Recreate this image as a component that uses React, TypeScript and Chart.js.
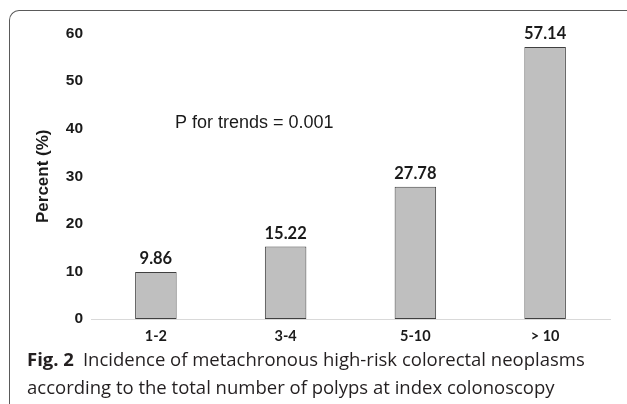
import React, { useEffect, useRef } from "react";
import { Chart, registerables } from "chart.js";

Chart.register(...registerables);

// ---- data ----
const categories: string[] = ["1-2", "3-4", "5-10", "> 10"];
const percents: number[] = [9.86, 15.22, 27.78, 57.14];
const yTicks: number[] = [0, 10, 20, 30, 40, 50, 60];
const yTitle = "Percent (%)";
const annotationText = "P for trends = 0.001";
const captionLabel = "Fig. 2";
const captionLines: string[] = [
  "Incidence of metachronous high-risk colorectal neoplasms",
  "according to the total number of polyps at index colonoscopy",
];

const valueLabels = {
  id: "valueLabels",
  afterDatasetsDraw(chart: any) {
    const ctx = chart.ctx;
    const meta = chart.getDatasetMeta(0);
    ctx.save();
    ctx.fillStyle = "#1a1a1a";
    ctx.font = "bold 16.5px Lato";
    ctx.textAlign = "center";
    ctx.textBaseline = "alphabetic";
    meta.data.forEach((bar: any, i: number) => {
      const v = chart.data.datasets[0].data[i] as number;
      ctx.fillText(v.toFixed(2), bar.x, bar.y - 8);
    });
    ctx.font = "18px 'Liberation Sans', Arial";
    ctx.textAlign = "left";
    ctx.fillText(annotationText, chart.chartArea.left + 84, chart.chartArea.top + 94.5);
    ctx.restore();
  },
};

export default function App() {
  const canvasRef = useRef<HTMLCanvasElement | null>(null);

  useEffect(() => {
    if (!canvasRef.current) return;
    const chart = new Chart(canvasRef.current, {
      type: "bar",
      data: {
        labels: categories,
        datasets: [
          {
            data: percents,
            backgroundColor: "#bfbfbf",
            borderColor: "#404040",
            borderWidth: 1,
            borderSkipped: false,
            categoryPercentage: 1,
            barPercentage: 0.32,
          },
        ],
      },
      options: {
        animation: false,
        responsive: false,
        maintainAspectRatio: false,
        events: [],
        layout: { padding: { top: 33.5, right: 17, left: 0, bottom: 0 } },
        plugins: {
          legend: { display: false },
          tooltip: { enabled: false },
          title: { display: false },
        },
        scales: {
          x: {
            grid: { display: false, drawTicks: false },
            border: { display: true, color: "#d9d9d9", width: 1 },
            ticks: {
              color: "#1a1a1a",
              padding: 8.5,
              font: { family: "Lato", weight: "bold", size: 14.5 },
            },
            afterFit(scale: any) {
              scale.height = 31;
            },
          },
          y: {
            min: 0,
            max: 60,
            grid: { display: false, drawTicks: false },
            border: { display: false },
            afterBuildTicks(scale: any) {
              scale.ticks = yTicks.map((v) => ({ value: v }));
            },
            ticks: {
              color: "#1a1a1a",
              padding: 8,
              font: { family: "'Liberation Sans', Arial", weight: "bold", size: 15.5 },
            },
            title: {
              display: true,
              text: yTitle,
              color: "#1a1a1a",
              padding: { top: 33, bottom: 0 },
              font: { family: "'Liberation Sans', Arial", weight: "bold", size: 17 },
            },
            afterFit(scale: any) {
              scale.width = 91;
            },
          },
        },
      },
      plugins: [valueLabels],
    });
    return () => chart.destroy();
  }, []);

  return (
    <div style={{ position: "absolute", left: 0, top: 0, width: 627, height: 404, overflow: "hidden", background: "#fff" }}>
      <div
        style={{
          position: "absolute",
          left: 8.5,
          top: 9.5,
          width: 640,
          height: 420,
          borderTop: "1.6px solid #5a5a5a",
          borderLeft: "1.6px solid #5a5a5a",
          borderTopLeftRadius: 10,
          boxSizing: "border-box",
        }}
      />
      <canvas
        ref={canvasRef}
        width={627}
        height={350}
        style={{ position: "absolute", left: 0, top: 0, width: 627, height: 350 }}
      />
      <div
        style={{
          position: "absolute",
          left: 27,
          top: 344.8,
          fontFamily: "'Open Sans', sans-serif",
          fontSize: 18.5,
          lineHeight: "28px",
          color: "#231f20",
          whiteSpace: "nowrap",
        }}
      >
        <div>
          <span style={{ fontWeight: 700, marginRight: 9 }}>{captionLabel}</span>
          {captionLines[0]}
        </div>
        <div>{captionLines[1]}</div>
      </div>
    </div>
  );
}
